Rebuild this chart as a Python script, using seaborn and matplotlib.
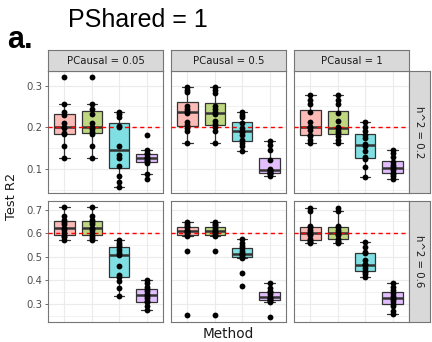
import numpy as np
import pandas as pd
import matplotlib
matplotlib.use("Agg")
import matplotlib.pyplot as plt
import seaborn as sns

# ---- data -------------------------------------------------------------
methods = ["M1", "M2", "M3", "M4"]
pcausal_levels = ["0.05", "0.5", "1"]
h2_levels = ["0.2", "0.6"]
h2_values = [0.2, 0.6]
method_colors = ["#F8766D", "#7CAE00", "#00BFC4", "#C77CFF"]

# Test R2 per replicate, one list per method, for h^2 = 0.2
r2_h02_pc005 = [
    [0.322, 0.255, 0.236, 0.23, 0.21, 0.2, 0.197, 0.186, 0.183, 0.155, 0.125],
    [0.322, 0.255, 0.245, 0.232, 0.21, 0.2, 0.195, 0.188, 0.183, 0.155, 0.125],
    [0.237, 0.232, 0.225, 0.204, 0.2, 0.156, 0.134, 0.126, 0.107, 0.083, 0.067, 0.055],
    [0.182, 0.145, 0.138, 0.135, 0.128, 0.125, 0.122, 0.118, 0.115, 0.087, 0.075],
]
r2_h02_pc05 = [
    [0.296, 0.29, 0.285, 0.252, 0.245, 0.238, 0.234, 0.213, 0.206, 0.198, 0.19, 0.162],
    [0.296, 0.29, 0.283, 0.25, 0.245, 0.237, 0.232, 0.215, 0.207, 0.2, 0.19, 0.162],
    [0.236, 0.229, 0.224, 0.209, 0.198, 0.192, 0.188, 0.182, 0.17, 0.162, 0.154, 0.142],
    [0.166, 0.158, 0.146, 0.12, 0.1, 0.097, 0.095, 0.093, 0.091, 0.089, 0.087, 0.083],
]
r2_h02_pc1 = [
    [0.277, 0.266, 0.257, 0.236, 0.213, 0.2, 0.2, 0.194, 0.182, 0.178, 0.17, 0.162],
    [0.277, 0.266, 0.257, 0.234, 0.215, 0.2, 0.198, 0.192, 0.185, 0.178, 0.17, 0.163],
    [0.212, 0.2, 0.19, 0.182, 0.174, 0.16, 0.156, 0.142, 0.128, 0.123, 0.105, 0.079],
    [0.146, 0.138, 0.129, 0.116, 0.11, 0.105, 0.101, 0.096, 0.09, 0.087, 0.082, 0.075],
]
# Test R2 per replicate for h^2 = 0.6
r2_h06_pc005 = [
    [0.713, 0.671, 0.654, 0.648, 0.64, 0.622, 0.613, 0.6, 0.588, 0.582, 0.571],
    [0.713, 0.671, 0.654, 0.646, 0.638, 0.62, 0.612, 0.6, 0.588, 0.58, 0.571],
    [0.571, 0.557, 0.548, 0.54, 0.527, 0.515, 0.508, 0.459, 0.422, 0.415, 0.396, 0.366, 0.331],
    [0.4, 0.387, 0.373, 0.362, 0.355, 0.34, 0.335, 0.323, 0.31, 0.306, 0.292, 0.275],
]
r2_h06_pc05 = [
    [0.648, 0.64, 0.632, 0.625, 0.615, 0.61, 0.605, 0.6, 0.593, 0.587, 0.526, 0.254],
    [0.648, 0.64, 0.633, 0.624, 0.616, 0.61, 0.606, 0.6, 0.594, 0.588, 0.526, 0.254],
    [0.574, 0.557, 0.545, 0.536, 0.522, 0.515, 0.51, 0.505, 0.5, 0.495, 0.429, 0.376],
    [0.387, 0.369, 0.355, 0.348, 0.34, 0.33, 0.326, 0.322, 0.318, 0.312, 0.306, 0.246],
]
r2_h06_pc1 = [
    [0.705, 0.693, 0.632, 0.625, 0.612, 0.603, 0.598, 0.59, 0.575, 0.566, 0.561, 0.56],
    [0.705, 0.693, 0.63, 0.625, 0.614, 0.605, 0.598, 0.59, 0.577, 0.566, 0.562, 0.56],
    [0.561, 0.543, 0.52, 0.515, 0.484, 0.468, 0.464, 0.45, 0.44, 0.436, 0.425, 0.415],
    [0.387, 0.373, 0.357, 0.345, 0.335, 0.325, 0.32, 0.31, 0.3, 0.289, 0.271, 0.257],
]
yticks_h02 = [0.1, 0.2, 0.3]
yticks_h06 = [0.3, 0.4, 0.5, 0.6, 0.7]

panels = {
    ("0.2", "0.05"): r2_h02_pc005, ("0.2", "0.5"): r2_h02_pc05, ("0.2", "1"): r2_h02_pc1,
    ("0.6", "0.05"): r2_h06_pc005, ("0.6", "0.5"): r2_h06_pc05, ("0.6", "1"): r2_h06_pc1,
}
rows = []
for (h2, pc), groups in panels.items():
    for m, vals in zip(methods, groups):
        for v in vals:
            rows.append({"h2": h2, "PCausal": pc, "Method": m, "R2": v})
df = pd.DataFrame(rows)

# ---- style ------------------------------------------------------------
sns.set_theme(style="white")
plt.rcParams["font.family"] = ["DejaVu Sans"]

def blend(hex_color, alpha=0.5):
    rgb = np.array(matplotlib.colors.to_rgb(hex_color))
    return tuple(rgb * alpha + (1 - alpha))

fill_palette = {m: blend(c) for m, c in zip(methods, method_colors)}

W, H = 432, 342
fig = plt.figure(figsize=(W / 100, H / 100), dpi=100)
fig.patch.set_facecolor("white")

col_x = [(48, 163), (171, 286), (294, 409)]
row_y = [(71, 193), (201, 322)]
strip_h = 21
border_col = "#767676"
grid_col = "#EBEBEB"

def frac_rect(x0, x1, y0, y1):
    return [x0 / W, 1 - y1 / H, (x1 - x0) / W, (y1 - y0) / H]

def make_strip(rect, text, rotation=0):
    s = fig.add_axes(rect)
    s.set_facecolor("#D9D9D9")
    s.set_xticks([]); s.set_yticks([])
    for sp in s.spines.values():
        sp.set_color(border_col); sp.set_linewidth(0.8)
    s.text(0.5, 0.5, text, ha="center", va="center", rotation=rotation,
           fontsize=7.3, color="#1A1A1A", transform=s.transAxes)

for ri, h2 in enumerate(h2_levels):
    sub_row = df[df["h2"] == h2]
    lo, hi = sub_row["R2"].min(), sub_row["R2"].max()
    pad = 0.05 * (hi - lo)
    yticks = yticks_h02 if ri == 0 else yticks_h06
    for ci, pc in enumerate(pcausal_levels):
        x0, x1 = col_x[ci]
        y0, y1 = row_y[ri]
        ax = fig.add_axes(frac_rect(x0, x1, y0, y1))
        sub = sub_row[sub_row["PCausal"] == pc]

        ax.set_yticks(yticks)
        step = yticks[1] - yticks[0]
        minor = [yticks[0] - step / 2] + [t + step / 2 for t in yticks]
        ax.set_yticks(minor, minor=True)
        ax.set_axisbelow(True)

        sns.boxplot(data=sub, x="Method", y="R2", hue="Method", order=methods,
                    hue_order=methods, palette=fill_palette, legend=False,
                    width=0.75, showfliers=False, saturation=1, ax=ax,
                    linecolor="#333333", linewidth=0.9,
                    medianprops={"linewidth": 1.8, "color": "#333333"})
        ax.axhline(h2_values[ri], color="#FF0000", lw=1.0, ls=(0, (3, 2.5)), zorder=3)
        sns.stripplot(data=sub, x="Method", y="R2", order=methods, color="black",
                      jitter=False, size=4.2, linewidth=0, ax=ax, zorder=4)

        ax.set_xlim(-0.6, 3.6)
        ax.set_ylim(lo - pad, hi + pad)
        ax.grid(True, which="major", color=grid_col, lw=0.8)
        ax.grid(True, which="minor", axis="y", color=grid_col, lw=0.45)
        ax.set_xlabel(""); ax.set_ylabel("")
        ax.set_xticklabels([])
        ax.tick_params(axis="x", length=0)
        ax.tick_params(axis="y", which="minor", length=0)
        if ci == 0:
            ax.tick_params(axis="y", which="major", length=2.5, width=0.5,
                           color="#333333", labelsize=7.3, labelcolor="#4D4D4D", pad=1.5,
                           left=True)
            ax.set_yticklabels([f"{t:.1f}" for t in yticks])
        else:
            ax.tick_params(axis="y", which="major", length=0, labelleft=False)
        for sp in ax.spines.values():
            sp.set_visible(True)
            sp.set_color(border_col); sp.set_linewidth(0.8)

        if ri == 0:
            make_strip(frac_rect(x0, x1, y0 - strip_h, y0), f"PCausal = {pc}")
        if ci == 2:
            make_strip(frac_rect(x1, x1 + strip_h, y0, y1), f"h^2 = {h2}", rotation=-90)

fig.text(12 / W, 1 - 196 / H, "Test R2", rotation=90, ha="center", va="center",
         fontsize=9.3, color="#1A1A1A")
fig.text(228 / W, 1 - 334 / H, "Method", ha="center", va="center",
         fontsize=9.8, color="#1A1A1A")
fig.text(68 / W, 1 - 20 / H, "PShared = 1", ha="left", va="center",
         fontsize=18, family=["Liberation Sans"], color="black")
fig.text(7 / W, 1 - 40 / H, "a.", ha="left", va="center",
         fontsize=22, fontweight="bold", family=["Liberation Sans"], color="black")

fig.savefig("out.png", dpi=100)
